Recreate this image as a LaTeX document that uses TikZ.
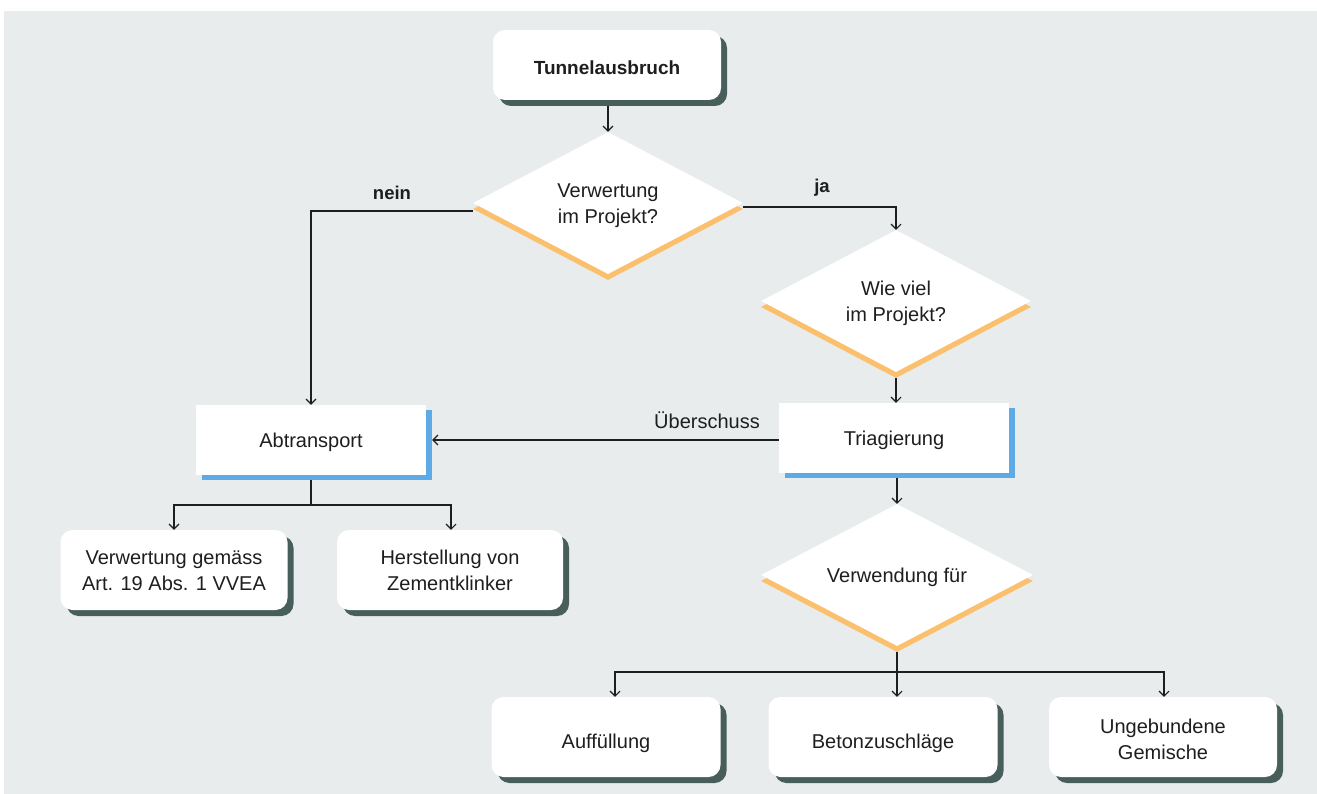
\documentclass[tikz,border=0pt]{standalone}
\usepackage{fontspec}
\setmainfont{Liberation Sans}
\usetikzlibrary{shapes.geometric,arrows.meta,shadows}
\definecolor{bg}{HTML}{E8ECEC}
\definecolor{shadowgreen}{HTML}{485E5A}
\definecolor{orangeshadow}{HTML}{FBC06E}
\definecolor{blueshadow}{HTML}{5EAAE6}
\definecolor{ink}{HTML}{1E1E1E}
\tikzset{
  txt/.style={font=\fontsize{20}{26.5}\selectfont, text=ink, align=center},
  roundbox/.style={txt, fill=white, rounded corners=12pt, inner sep=0pt,
    minimum height=80pt, minimum width=228pt,
    drop shadow={shadow xshift=6pt, shadow yshift=-6pt, fill=shadowgreen, opacity=1}},
  sqbox/.style={txt, fill=white, inner sep=0pt, minimum height=70pt, minimum width=230pt,
    drop shadow={shadow xshift=6pt, shadow yshift=-5pt, fill=blueshadow, opacity=1}},
  decision/.style={txt, diamond, fill=white, inner sep=0pt, shape aspect=1.9,
    minimum width=270pt, minimum height=142pt,
    drop shadow={shadow xshift=0pt, shadow yshift=-6pt, fill=orangeshadow, opacity=1}},
  edgelabel/.style={txt, font=\fontsize{18.5}{22}\selectfont\bfseries},
  arr/.style={draw=ink, line width=1.2pt, -{Straight Barb[length=5pt,width=10pt,line width=1.1pt]}},
  ln/.style={draw=ink, line width=1.2pt},
}
\newcommand{\lowtxt}[2]{\raisebox{-#1pt}[\height][\depth]{#2}}
\begin{document}
\begin{tikzpicture}[x=1pt,y=-1pt]
\useasboundingbox (0,0) rectangle (1317,794);
\fill[bg] (4,11) rectangle (1317,794);

% nodes
\node[roundbox, minimum height=70pt, font=\fontsize{19}{22}\selectfont\bfseries] (t1) at (607,65) {\lowtxt{3}{Tunnelausbruch}};
\node[decision] (d1) at (608,203) {\lowtxt{2}{\begin{tabular}{@{}c@{}}Verwertung\\im Projekt?\end{tabular}}};
\node[decision] (d2) at (896,301) {\lowtxt{2}{\begin{tabular}{@{}c@{}}Wie viel\\im Projekt?\end{tabular}}};
\node[sqbox] (abt) at (311,440) {\lowtxt{2}{Abtransport}};
\node[sqbox] (tri) at (894,438) {\lowtxt{2}{Triagierung}};
\node[roundbox, minimum width=227pt] (v1) at (174,570) {\lowtxt{2}{\begin{tabular}{@{}c@{}}Verwertung gemäss\\Art. 19 Abs. 1 VVEA\end{tabular}}};
\node[roundbox, minimum width=226pt] (h1) at (450,570) {\lowtxt{2}{\begin{tabular}{@{}c@{}}Herstellung von\\Zementklinker\end{tabular}}};
\node[decision, minimum width=272pt] (d3) at (897,575) {\lowtxt{2}{Verwendung für}};
\node[roundbox, minimum width=229pt] (auf) at (606,737) {\lowtxt{6}{Auffüllung}};
\node[roundbox, minimum width=229pt] (bet) at (883,737) {\lowtxt{6}{Betonzuschläge}};
\node[roundbox, minimum width=228pt] (ung) at (1163,737) {\lowtxt{4}{\begin{tabular}{@{}c@{}}Ungebundene\\Gemische\end{tabular}}};

% labels
\node[edgelabel] (lnein) at (392,193) {nein};
\node[edgelabel] (lja) at (822,188) {ja};
\node[txt] (lueb) at (707,420) {Überschuss};

% junction coordinates
\coordinate (j1) at (311,505);
\coordinate (j2) at (897,672);

% connectors
\draw[arr] ([yshift=-6pt]t1.south -| d1.north) -- (d1.north);
\draw[arr] ([yshift=-8pt]d1.west) -| (abt.north);
\draw[arr] ([yshift=-4pt]d1.east) -| (d2.north);
\draw[arr] ([yshift=-6pt]d2.south) -- (d2.south |- tri.north);
\draw[arr] ([yshift=-2pt]tri.west) -- ([xshift=6pt,yshift=-2pt]tri.west -| abt.east);
\draw[ln] ([yshift=-5pt]abt.south) -- (j1);
\draw[arr] (j1) -| (v1.north);
\draw[arr] (j1) -| ([xshift=1pt]h1.north);
\draw[arr] ([yshift=-5pt]tri.south -| d3.north) -- (d3.north);
\draw[ln] ([yshift=-6pt]d3.south) -- (j2);
\draw[arr] (j2) -| ([xshift=9pt]auf.north);
\draw[arr] (j2) -| ([xshift=14pt]bet.north);
\draw[arr] (j2) -| ([xshift=1pt]ung.north);
\end{tikzpicture}
\end{document}
